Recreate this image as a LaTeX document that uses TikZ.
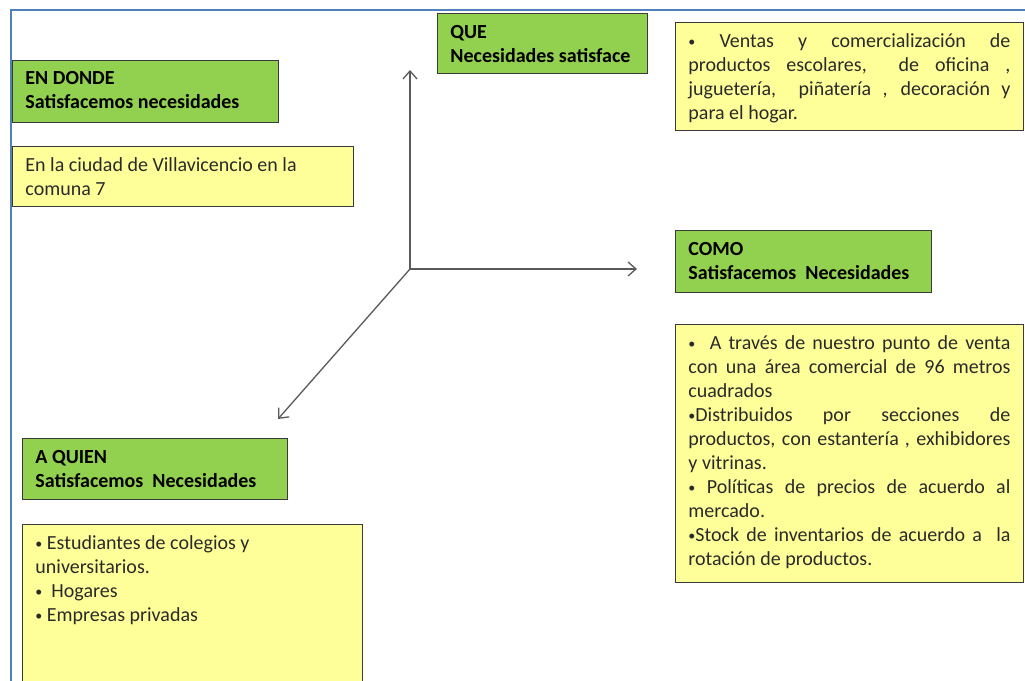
\documentclass[tikz,border=0pt]{standalone}
\usepackage{fontspec}
\setmainfont{Carlito}
\usetikzlibrary{arrows.meta}
\definecolor{gfill}{HTML}{92D050}
\definecolor{yfill}{HTML}{FFFF99}
\definecolor{frameblue}{HTML}{4F81BD}
\definecolor{edgecol}{HTML}{3A3A3A}
\definecolor{axiscol}{HTML}{5A5A5A}
\definecolor{ink}{HTML}{2A2A2A}
\newcommand\boxtxt[4]{\begin{minipage}[t][#1][t]{#2}\vspace*{#3}\strut #4\end{minipage}}
\newcommand\jl[1]{\makebox[\linewidth][s]{#1}}
\newcommand\bul{\raisebox{1pt}{\scalebox{0.7}{•}}}
\tikzset{
  gbox/.style={draw=edgecol, line width=0.9pt, fill=gfill, anchor=north west,
    inner xsep=13pt, inner ysep=0pt, font=\fontsize{20}{24}\selectfont\bfseries, text=black},
  ybox/.style={draw=edgecol, line width=0.9pt, fill=yfill, anchor=north west,
    inner xsep=13pt, inner ysep=0pt, font=\fontsize{20}{24}\selectfont, text=ink},
  axisline/.style={draw=axiscol, line width=1.3pt, -{Straight Barb[length=8pt,width=14pt]}},
  framel/.style={draw=frameblue, line width=2pt}
}
\begin{document}
\begin{tikzpicture}[x=1pt,y=-1pt]
\useasboundingbox (0,0) rectangle (1025,680);
\fill[white] (0,0) rectangle (1025,680);
\draw[framel] (11,682) -- (11,10) -- (1027,10);

\node[gbox] (endonde) at (12,60) {\boxtxt{62pt}{240pt}{7.5pt}{EN DONDE\\Satisfacemos necesidades}};
\node[ybox] (dondetxt) at (12,146) {\boxtxt{60pt}{315pt}{8pt}{En la ciudad de Villavicencio en la\\comuna 7}};

\node[gbox] (que) at (437,13) {\boxtxt{60pt}{184pt}{8.5pt}{QUE\\Necesidades satisface}};
\node[ybox] (quetxt) at (675,22) {\boxtxt{108pt}{322pt}{8pt}{\jl{\bul\ Ventas y comercialización de}\\
\jl{productos escolares,\ \ de oficina ,}\\
\jl{juguetería,\ \ piñatería , decoración y}\\
para el hogar.}};

\node[gbox] (como) at (675,230) {\boxtxt{62pt}{230pt}{8pt}{COMO\\Satisfacemos~ Necesidades}};
\node[ybox] (comotxt) at (675,324) {\boxtxt{258pt}{322pt}{8pt}{\jl{\bul\ \ A través de nuestro punto de venta}\\
\jl{con una área comercial de 96 metros}\\
cuadrados\\
\jl{\bul Distribuidos por secciones de}\\
\jl{productos, con estantería , exhibidores}\\
y vitrinas.\\
\jl{\bul\ Políticas de precios de acuerdo al}\\
mercado.\\
\jl{\bul Stock de inventarios de acuerdo a\ \ la}\\
rotación de productos.}};

\node[gbox] (aquien) at (22,438) {\boxtxt{61pt}{239pt}{8pt}{A QUIEN\\Satisfacemos~ Necesidades}};
\node[ybox] (aquientxt) at (22,524) {\boxtxt{170pt}{314pt}{8.5pt}{\bul\ Estudiantes de colegios y\\universitarios.\\\bul~ Hogares\\\bul\ Empresas privadas}};

\coordinate (o) at (410,269);
\coordinate (up) at (410,70);
\coordinate (rt) at (637,269);
\coordinate (dn) at (278,419);
\draw[axisline] (o) -- (up);
\draw[axisline] (o) -- (rt);
\draw[axisline] (o) -- (dn);
\end{tikzpicture}
\end{document}
